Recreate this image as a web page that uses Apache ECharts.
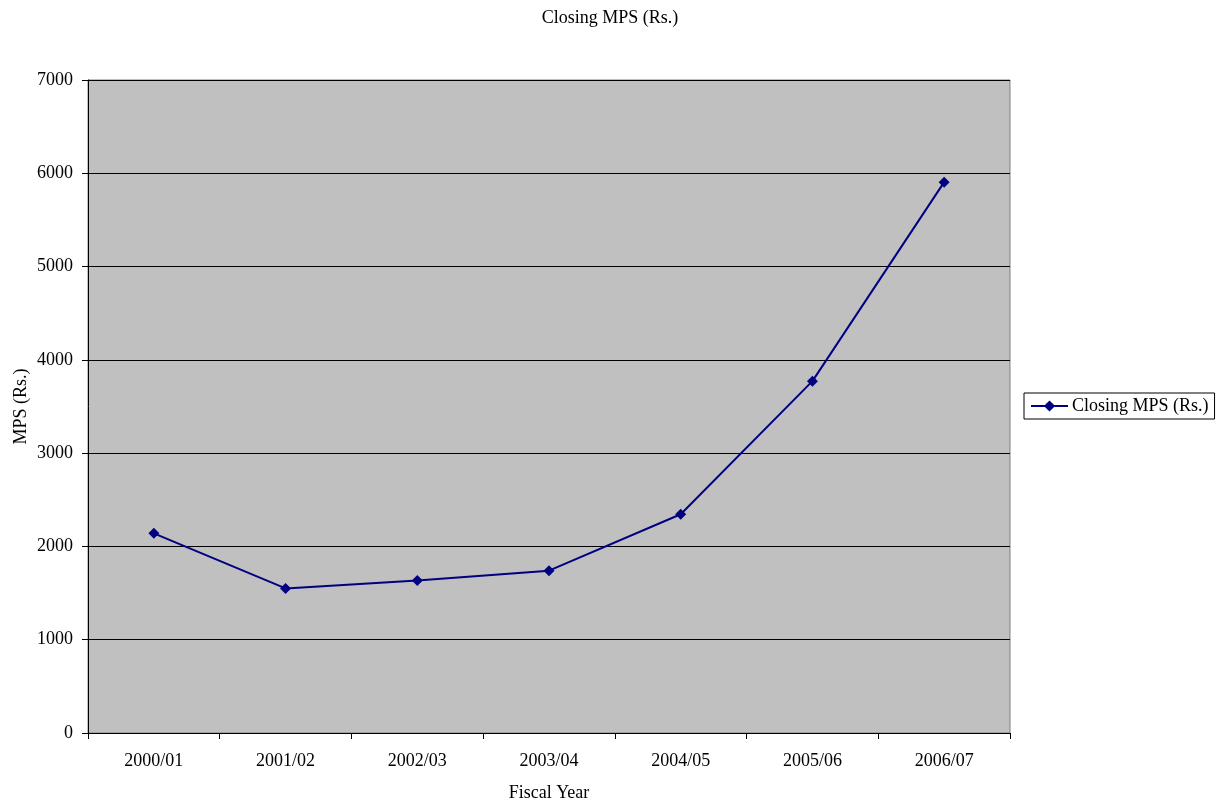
<!DOCTYPE html>
<html>
<head>
<meta charset="utf-8">
<script src="https://cdn.jsdelivr.net/npm/echarts@6/dist/echarts.min.js"></script>
<style>
  html, body { margin: 0; padding: 0; background: #fff; }
  #chart { width: 1221px; height: 801px; }
</style>
</head>
<body>
<div id="chart"></div>
<script>
// Closing market price per share by fiscal year
const fiscalYears = ['2000/01', '2001/02', '2002/03', '2003/04', '2004/05', '2005/06', '2006/07'];
const closingMps = [2140, 1550, 1635, 1740, 2345, 3772, 5905];
const yTicks = { min: 0, max: 7000, interval: 1000 };

const serif = 'Liberation Serif, Times New Roman, serif';
const fs = 18;
const chart = echarts.init(document.getElementById('chart'));

chart.setOption({
  backgroundColor: '#ffffff',
  animation: false,
  textStyle: { fontFamily: serif, color: '#000' },
  title: {
    text: 'Closing MPS (Rs.)',
    left: 605,
    textAlign: 'center',
    top: 4,
    textStyle: { fontFamily: serif, fontWeight: 'normal', fontSize: fs, color: '#000' }
  },
  grid: {
    left: 88, right: 211, top: 80, bottom: 68,
    outerBoundsMode: 'none',
    containLabel: false,
    show: true,
    backgroundColor: '#C0C0C0',
    borderColor: '#808080',
    borderWidth: 1
  },
  legend: {
    left: 1024,
    top: 393,
    orient: 'vertical',
    borderColor: '#000',
    borderWidth: 1,
    padding: [4, 6, 4, 6],
    itemWidth: 37,
    itemHeight: 14,
    itemGap: 0,
    textStyle: { fontFamily: serif, fontSize: fs, color: '#000', padding: [0, 0, 0, -1] },
    data: ['Closing MPS (Rs.)']
  },
  xAxis: {
    type: 'category',
    data: fiscalYears,
    boundaryGap: true,
    name: 'Fiscal Year',
    nameLocation: 'middle',
    nameGap: 51,
    nameTextStyle: { fontFamily: serif, fontSize: fs, color: '#000' },
    axisLine: { show: true, lineStyle: { color: '#000', width: 1 } },
    axisTick: { show: true, length: 6, lineStyle: { color: '#000' } },
    axisLabel: { fontFamily: serif, fontSize: fs, color: '#000', margin: 19 },
    splitLine: { show: false }
  },
  yAxis: {
    type: 'value',
    min: yTicks.min,
    max: yTicks.max,
    interval: yTicks.interval,
    name: 'MPS (Rs.)',
    nameLocation: 'middle',
    nameGap: 58,
    nameMoveOverlap: false,
    nameRotate: 90,
    nameTextStyle: { fontFamily: serif, fontSize: fs, color: '#000' },
    axisLine: { show: true, lineStyle: { color: '#000', width: 1 } },
    axisTick: { show: true, length: 6, lineStyle: { color: '#000' } },
    axisLabel: { fontFamily: serif, fontSize: fs, color: '#000', margin: 15, formatter: v => String(v) },
    splitLine: { show: true, lineStyle: { color: '#000', width: 1 } }
  },
  series: [{
    name: 'Closing MPS (Rs.)',
    type: 'line',
    data: closingMps,
    symbol: 'diamond',
    symbolSize: 11,
    lineStyle: { color: '#000080', width: 2 },
    itemStyle: { color: '#000080' },
    label: { show: false }
  }]
});
</script>
</body>
</html>
